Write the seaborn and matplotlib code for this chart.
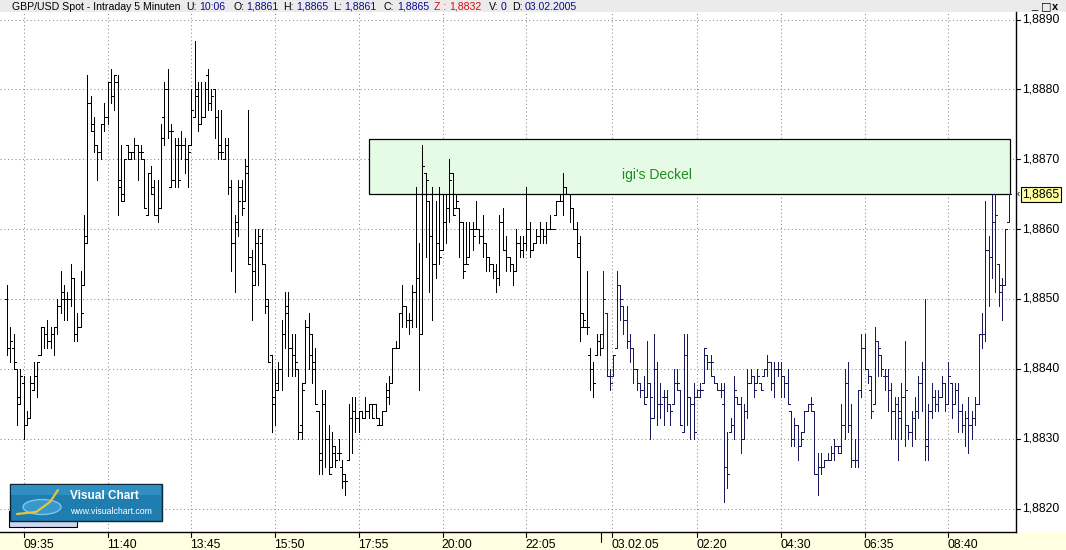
import numpy as np
import matplotlib
matplotlib.use("Agg")
import matplotlib.pyplot as plt
import seaborn as sns
from matplotlib.patches import Rectangle, Ellipse
from matplotlib.transforms import blended_transform_factory

# ---------------- data (GBP/USD 5-minute OHLC, pips above BASE) ----------------
BASE = 1.8800
opens_pips = [
    50,43,43,40,36,38,32,33,37,39, 42,46,45,44,45,46,49,51,50,50,
    53,45,46,52,59,78,74,72,71,75, 76,81,79,81,67,64,72,71,71,72,
    71,70,62,68,65,62,63,76,80,66, 67,72,72,72,70,72,76,79,75,76,
    82,78,80,76,71,70,72,66,58,60, 66,64,69,56,52,58,58,55,49,42,
    35,37,40,45,49,43,42,40,32,38, 46,42,41,34,28,35,30,26,29,28,
    26,25,27,33,34,33,34,33,34,35, 35,32,32,34,36,38,43,43,48,49,
    47,47,51,53,45,68,64,59,55,58, 57,61,63,68,63,63,61,55,56,60,
    60,60,59,58,56,55,54,53,61,57, 56,55,54,58,57,58,60,57,58,59,
    60,59,60,60,62,64,64,66,65,63, 60,58,48,46,42,40,42,44,45,48,
    39,39,43,52,49,47,44,43,40,38, 37,36,38,33,40,35,36,36,35,35,
    38,37,31,42,36,35,36,36,38,42, 41,39,38,37,35,26,31,32,36,35,
    30,34,38,39,38,38,39,40,41,38, 40,40,39,38,34,30,32,29,31,34,
    35,34,25,26,26,27,27,28,29,28, 32,38,32,27,27,37,43,40,37,35,
    44,42,39,39,37,34,35,33,36,32, 31,33,34,38,40,30,34,36,35,36,
    38,35,38,35,37,34,32,33,32,33, 35,45,45,57,56,61,55,52,52,61,
]
highs_pips = [
    52,46,45,40,40,39,34,39,41,41, 46,46,47,46,46,50,54,52,51,55,
    53,48,54,62,82,79,76,72,75,78, 81,83,82,82,72,70,72,71,73,72,
    72,70,68,69,67,67,75,81,83,75, 73,73,74,73,72,80,87,81,81,81,
    83,80,80,77,77,73,73,67,62,67, 67,70,77,57,60,60,60,55,50,42,
    40,41,47,51,51,45,45,40,38,47, 48,45,43,34,37,37,32,31,29,30,
    27,25,35,36,36,34,34,36,35,35, 35,33,34,38,39,43,44,48,52,49,
    48,52,66,58,72,68,64,66,64,66, 65,65,70,68,65,63,61,61,61,61,
    64,60,62,58,56,55,55,62,63,59, 56,55,60,59,59,66,61,58,60,61,
    60,61,62,60,64,65,68,66,65,63, 61,59,48,54,43,41,45,45,54,48,
    40,42,54,52,49,49,45,43,40,38, 39,44,38,45,41,38,37,37,35,40,
    40,37,45,45,36,38,37,38,43,42, 42,39,38,38,38,31,33,39,36,36,
    35,40,40,39,40,38,40,42,41,41, 41,41,39,40,34,33,32,31,34,35,
    36,34,28,28,27,28,29,30,29,35, 40,41,35,30,37,45,45,40,39,46,
    44,42,40,40,38,36,36,38,44,32, 34,36,39,41,50,35,38,37,37,39,
    38,41,38,38,38,35,34,36,34,36, 45,48,64,59,65,65,55,53,60,65,
]
lows_pips = [
    42,41,40,32,35,30,32,33,37,36, 42,43,43,43,42,45,48,47,47,49,
    44,44,46,52,58,74,71,67,70,74, 75,78,77,62,64,64,70,70,70,67,
    70,63,62,65,62,61,63,72,73,66, 66,66,70,68,66,72,76,74,75,76,
    77,77,73,70,70,70,65,54,51,59, 62,64,55,47,52,52,55,48,41,31,
    32,37,37,43,39,39,39,30,30,38, 40,38,35,25,25,26,25,26,26,27,
    23,22,27,28,31,31,33,33,33,33, 33,32,32,34,35,38,43,43,46,46,
    45,46,46,37,45,56,51,47,53,55, 57,58,61,62,63,56,53,55,56,57,
    60,58,56,54,54,53,51,52,57,54, 54,52,54,56,56,57,56,57,58,58,
    58,58,60,60,62,64,62,65,61,60, 56,44,46,45,37,36,42,42,43,39,
    37,39,43,47,45,43,41,38,37,36, 35,36,30,33,32,33,32,34,32,35,
    37,32,31,32,30,30,36,36,38,40, 39,38,37,36,21,23,31,30,35,28,
    30,33,38,36,38,37,39,39,37,36, 39,36,36,35,29,29,27,29,31,34,
    34,25,22,25,26,27,27,27,28,28, 30,31,26,26,26,36,40,38,33,35,
    39,39,37,34,30,30,27,30,29,30, 29,30,33,34,27,27,33,34,34,36,
    34,35,33,35,31,31,29,28,30,32, 35,43,44,49,53,51,49,47,52,61,
]
closes_pips = [
    43,44,41,35,39,32,33,38,39,41, 46,45,44,45,46,49,50,50,50,53,
    45,46,48,58,78,75,72,71,75,76, 81,79,82,66,65,70,70,71,72,71,
    71,63,68,66,62,63,73,80,74,74, 72,67,72,70,71,77,80,75,76,80,
    78,79,76,72,71,72,66,58,61,64, 63,68,55,54,58,59,55,50,41,36,
    38,40,45,48,43,42,41,31,37,46, 45,40,35,27,35,30,25,28,27,28,
    24,24,33,34,33,34,33,34,35,33, 33,32,34,37,38,43,43,48,49,47,
    47,51,53,45,69,67,59,55,58,56, 61,63,67,62,64,61,54,55,60,59,
    60,59,58,56,55,54,53,61,57,56, 55,54,58,57,58,60,57,58,59,60,
    59,60,60,60,64,65,66,65,63,60, 56,46,47,46,40,38,44,43,50,39,
    38,42,52,50,47,44,43,40,38,37, 35,38,36,40,35,35,36,35,34,38,
    38,32,42,36,35,31,37,37,43,41, 41,38,37,37,26,25,32,37,35,30,
    34,38,39,37,39,37,40,41,38,40, 40,39,38,35,30,32,29,30,34,35,
    35,25,26,26,27,27,28,29,29,32, 38,32,27,27,37,43,40,39,34,44,
    43,40,39,37,34,35,34,36,37,31, 33,34,38,40,29,34,36,35,36,38,
    35,39,35,37,34,32,33,32,33,35, 45,45,57,56,61,62,51,52,60,65,
]
first_bar_day2 = 178          # first bar of 03.02.2005 (00:00)
time_labels = ["09:35", "11:40", "13:45", "15:50", "17:55", "20:00", "22:05",
               "03.02.05", "02:20", "04:30", "06:35", "08:40"]
time_label_bar = [5, 30, 55, 80, 105, 130, 155, 180.7, 206, 231, 256, 281]
price_ticks = [1.8820, 1.8830, 1.8840, 1.8850, 1.8860, 1.8870, 1.8880, 1.8890]
zone_bars = [108.1, 299.5]            # "igi's Deckel" box
zone_prices = [1.8865, 1.88729]
zone_label = "igi's Deckel"
last_price = 1.8865
header_title = "GBP/USD Spot - Intraday 5 Minuten"
header_fields = [("U:", "10:06"), ("O:", "1,8861"), ("H:", "1,8865"),
                 ("L:", "1,8861"), ("C:", "1,8865"), ("Z :", "1,8832"),
                 ("V:", "0"), ("D:", "03.02.2005")]

# ---------------- style ----------------
sns.set_theme(style="white")
plt.rcParams["font.family"] = ["Liberation Sans", "DejaVu Sans"]

W, H = 1066, 550
fig = plt.figure(figsize=(W / 100, H / 100), dpi=100)
fig.patch.set_facecolor("#ffffff")

def fy(py):
    return 1 - py / H

PLOT_R, PLOT_T, PLOT_B = 1016, 12, 532
ax = fig.add_axes([0, fy(PLOT_B), PLOT_R / W, (PLOT_B - PLOT_T) / H])
ax.set_facecolor("#ffffff")

n = len(highs_pips)
idx = np.arange(n)
o = BASE + np.array(opens_pips) / 1e4
h = BASE + np.array(highs_pips) / 1e4
l = BASE + np.array(lows_pips) / 1e4
c = BASE + np.array(closes_pips) / 1e4

ax.set_xlim(-7 / 3.35, (PLOT_R - 7) / 3.35)
ax.set_ylim(1.881664, 1.889109)

grid_kw = dict(color="#8a8a8a", lw=0.75, linestyle=(0, (1, 2.6)), zorder=0.5)
for p in price_ticks:
    ax.axhline(p, **grid_kw)
for b in time_label_bar:
    ax.axvline(b, **grid_kw)

# resistance zone
ax.add_patch(Rectangle((zone_bars[0], zone_prices[0]), zone_bars[1] - zone_bars[0],
                       zone_prices[1] - zone_prices[0], facecolor="#e6fbe6",
                       edgecolor="#000000", lw=0.9, zorder=1))
ax.text(194, 1.886775, zone_label, color="#1f8c1f", fontsize=10,
        ha="center", va="center", zorder=2)

# OHLC bars
cols = np.where(idx < first_bar_day2, "#000000", "#1a1a5c")
tk = 0.62
bar_kw = dict(colors=cols, lw=0.72, zorder=3, antialiased=False)
ax.vlines(idx, l, h, **bar_kw)
ax.hlines(o, idx - tk, idx, **bar_kw)
ax.hlines(c, idx, idx + tk, **bar_kw)

for s in ["top", "left"]:
    ax.spines[s].set_visible(False)
for s in ["right", "bottom"]:
    ax.spines[s].set_visible(True)
    ax.spines[s].set_color("#000000")
    ax.spines[s].set_linewidth(1.0)
ax.set_xticks([])
ax.set_yticks([])

# right price axis
tr = blended_transform_factory(ax.transAxes, ax.transData)
for p in price_ticks:
    ax.plot([1.0, 1.0 + 4 / PLOT_R], [p, p], color="#000000", lw=0.8,
            transform=tr, clip_on=False)
    ax.text(1.0 + 6 / PLOT_R, p, f"{p:.4f}".replace(".", ","), transform=tr,
            ha="left", va="center", fontsize=8.8, color="#000000", clip_on=False)
ax.text(1.0 + 1 / PLOT_R, last_price, "‹", transform=tr, ha="left", va="center",
        fontsize=7, color="#000000", clip_on=False)
ax.text(1.0 + 6 / PLOT_R, last_price, f"{last_price:.4f}".replace(".", ","),
        transform=tr, ha="left", va="center", fontsize=8.8, color="#000000",
        clip_on=False, zorder=6,
        bbox=dict(boxstyle="square,pad=0.12", facecolor="#ffffa0",
                  edgecolor="#000000", lw=0.8))

# bottom band + time axis
fig.patches.append(Rectangle((0, 0), 1, fy(PLOT_B), transform=fig.transFigure,
                             facecolor="#ffffe1", edgecolor="none", zorder=-1))
tb = blended_transform_factory(ax.transData, ax.transAxes)
hpx = PLOT_B - PLOT_T
for b, lab in zip(time_label_bar, time_labels):
    ax.plot([b, b], [0, -5 / hpx], color="#000000", lw=0.8, transform=tb,
            clip_on=False)
    ax.text(b - 0.2, -12.5 / hpx, lab, transform=tb, ha="left", va="center",
            fontsize=8.8, color="#000000", clip_on=False)
ax.plot([first_bar_day2 - 0.6] * 2, [0, -10 / hpx], color="#000000", lw=0.8,
        transform=tb, clip_on=False)

# header band
fig.patches.append(Rectangle((0, fy(PLOT_T)), 1, PLOT_T / H, transform=fig.transFigure,
                             facecolor="#ebebeb", edgecolor="none", zorder=-1))
navy, red, blk = "#0a0a8c", "#d01010", "#000000"
renderer = fig.canvas.get_renderer()
hdr_fs = 7.6
field_x = [186, 233, 283, 333, 384, 434, 489, 512]
fig.text(12 / W, fy(6.5), header_title, ha="left", va="center", fontsize=hdr_fs,
         color=blk)
for (lab, val), xp in zip(header_fields, field_x):
    lcol = red if lab.startswith("Z") else blk
    vcol = red if lab.startswith("Z") else navy
    t = fig.text(xp / W, fy(6.5), lab, ha="left", va="center", fontsize=hdr_fs,
                 color=lcol)
    wpx = t.get_window_extent(renderer).width
    fig.text((xp + wpx + 2.5) / W, fy(6.5), val, ha="left", va="center",
             fontsize=hdr_fs, color=vcol)
fig.text(1031 / W, fy(6), "_", ha="left", va="center", fontsize=8, color=blk)
fig.text(1041 / W, fy(6.5), "□", ha="left", va="center", fontsize=8, color=blk,
         family="DejaVu Sans")
fig.text(1052 / W, fy(6.5), "x", ha="left", va="center", fontsize=8,
         color=blk, weight="bold")

# Visual Chart logo (figure pixel coordinates)
lax = fig.add_axes([0, 0, 1, 1], facecolor="none")
lax.set_xlim(0, W)
lax.set_ylim(H, 0)
lax.axis("off")
lax.add_patch(Rectangle((9, 511), 68, 16, facecolor="#cdd6ee", edgecolor="#000000",
                        lw=0.8))
lax.add_patch(Rectangle((10, 484), 152, 37, facecolor="#1f7db0", edgecolor="#0b2636",
                        lw=1.0))
lax.add_patch(Rectangle((11, 485), 150, 10, facecolor="#2f8fc0", edgecolor="none"))
lax.add_patch(Ellipse((42, 507), 38, 15, facecolor="#3a9cd0", edgecolor="#8ccbee",
                      lw=1.0, alpha=0.9))
lax.plot([17, 36, 50, 58], [514, 512, 502, 490], color="#e8c23a", lw=1.6)
lax.text(70, 496, "Visual Chart", color="#ffffff", fontsize=8.5, weight="bold",
         ha="left", va="center")
lax.text(70, 512, "www.visualchart.com", color="#ffffff", fontsize=6.3,
         ha="left", va="center")

fig.savefig("out.png", dpi=100)
